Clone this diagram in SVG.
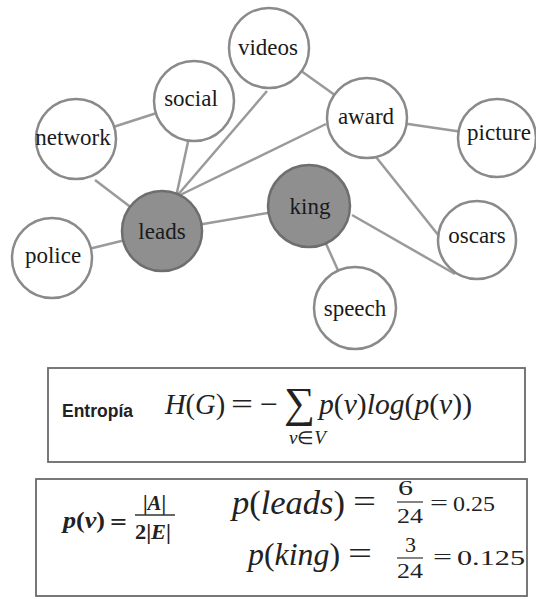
<svg xmlns="http://www.w3.org/2000/svg" width="536" height="599" viewBox="0 0 536 599">
<style>
.n{fill:#fff;stroke:#8a8a8a;stroke-width:2.5}
.h{fill:#8f8f8f;stroke:#6e6e6e;stroke-width:2.5}
.t{font-family:'Liberation Serif','Times New Roman',serif;font-size:23px;fill:#1a1a1a;text-anchor:middle}
.e line{stroke:#9a9a9a;stroke-width:2.5}
.box{fill:#fff;stroke:#6a6a6a;stroke-width:1.8}
.m{font-family:'Liberation Serif','Times New Roman',serif;font-style:italic;fill:#222}
.r{font-family:'Liberation Serif','Times New Roman',serif;font-style:normal;fill:#222}
.b{font-family:'Liberation Sans',Arial,sans-serif;font-weight:bold;fill:#222}
</style>
<g class="e" id="connectors">
<line x1="76" y1="139" x2="194" y2="101"/>
<line x1="95" y1="180" x2="162" y2="231"/>
<line x1="188" y1="142" x2="176" y2="197"/>
<line x1="267" y1="91" x2="176" y2="197"/>
<line x1="326" y1="124" x2="176" y2="197"/>
<line x1="269" y1="48" x2="367" y2="118"/>
<line x1="367" y1="118" x2="497" y2="137"/>
<line x1="376" y1="157" x2="439" y2="236"/>
<line x1="52" y1="258" x2="162" y2="231"/>
<line x1="162" y1="231" x2="309" y2="206"/>
<line x1="309" y1="206" x2="355" y2="308"/>
<line x1="352" y1="215" x2="455" y2="274"/>
</g>
<g id="videos"><circle class="n" cx="269" cy="48" r="40"/><text class="t" x="268" y="55">videos</text></g>
<g id="social"><circle class="n" cx="194" cy="101" r="40"/><text class="t" x="191" y="106">social</text></g>
<g id="network"><circle class="n" cx="76" cy="139" r="40"/><text class="t" x="73" y="145">network</text></g>
<g id="award"><circle class="n" cx="367" cy="118" r="40"/><text class="t" x="366" y="124">award</text></g>
<g id="picture"><circle class="n" cx="497" cy="138" r="39"/><text class="t" x="499" y="140">picture</text></g>
<g id="oscars"><circle class="n" cx="477" cy="240" r="39"/><text class="t" x="477" y="243">oscars</text></g>
<g id="police"><circle class="n" cx="52" cy="258" r="40"/><text class="t" x="53" y="263">police</text></g>
<g id="speech"><circle class="n" cx="355" cy="308" r="41"/><text class="t" x="355" y="316">speech</text></g>
<g id="leads"><circle class="h" cx="162" cy="231" r="40"/><text class="t" x="162" y="239">leads</text></g>
<g id="king"><circle class="h" cx="309" cy="206" r="41"/><text class="t" x="310" y="214">king</text></g>

<g id="entropy">
<rect class="box" x="48" y="368" width="477" height="94"/>
<text class="b" x="62" y="417" font-size="17.5">Entropía</text>
<text class="m" x="165" y="414" font-size="28.5">H<tspan class="r">(</tspan>G<tspan class="r">)</tspan></text>
<text class="r" x="231" y="414" font-size="30" textLength="22" lengthAdjust="spacingAndGlyphs">=</text>
<text class="r" x="260" y="414" font-size="30" textLength="18" lengthAdjust="spacingAndGlyphs">−</text>
<text class="r" x="284" y="417" font-size="43" textLength="31" lengthAdjust="spacingAndGlyphs">∑</text>
<text class="m" x="319" y="414" font-size="30" textLength="153" lengthAdjust="spacingAndGlyphs">p<tspan class="r">(</tspan>v<tspan class="r">)</tspan>log<tspan class="r">(</tspan>p<tspan class="r">(</tspan>v<tspan class="r">))</tspan></text>
<text class="m" x="289" y="444" font-size="18" textLength="37" lengthAdjust="spacingAndGlyphs">v<tspan class="r">∈</tspan>V</text>
</g>

<g id="probability">
<rect class="box" x="36" y="479" width="491" height="117"/>
<text class="m" x="63" y="528" font-size="24" font-weight="bold" textLength="42" lengthAdjust="spacingAndGlyphs">p<tspan class="r">(</tspan>v<tspan class="r">)</tspan></text>
<text class="r" x="110" y="530" font-size="24" font-weight="bold" textLength="17" lengthAdjust="spacingAndGlyphs">=</text>
<text class="m" x="143" y="510" font-size="21" font-weight="bold" textLength="23" lengthAdjust="spacingAndGlyphs"><tspan class="r">|</tspan>A<tspan class="r">|</tspan></text>
<line x1="135" y1="515" x2="175" y2="515" stroke="#333" stroke-width="1.6"/>
<text class="m" x="135" y="539" font-size="21" font-weight="bold" textLength="36" lengthAdjust="spacingAndGlyphs"><tspan class="r">2|</tspan>E<tspan class="r">|</tspan></text>

<text class="m" x="232" y="514" font-size="33" textLength="113" lengthAdjust="spacingAndGlyphs">p<tspan class="r">(</tspan>leads<tspan class="r">)</tspan></text>
<text class="r" x="353" y="512" font-size="32" textLength="23" lengthAdjust="spacingAndGlyphs">=</text>
<text class="r" x="398" y="495" font-size="20" textLength="15" lengthAdjust="spacingAndGlyphs">6</text>
<line x1="397" y1="502" x2="423" y2="502" stroke="#333" stroke-width="1.2"/>
<text class="r" x="397" y="523" font-size="20" textLength="26" lengthAdjust="spacingAndGlyphs">24</text>
<text class="r" x="430" y="510" font-size="20" textLength="18" lengthAdjust="spacingAndGlyphs">=</text>
<text class="r" x="453" y="511" font-size="20" textLength="42" lengthAdjust="spacingAndGlyphs">0.25</text>

<text class="m" x="248" y="565" font-size="32" textLength="92" lengthAdjust="spacingAndGlyphs">p<tspan class="r">(</tspan>king<tspan class="r">)</tspan></text>
<text class="r" x="348" y="564" font-size="32" textLength="24" lengthAdjust="spacingAndGlyphs">=</text>
<text class="r" x="405" y="552" font-size="20" textLength="11" lengthAdjust="spacingAndGlyphs">3</text>
<line x1="397" y1="558" x2="423" y2="558" stroke="#333" stroke-width="1.2"/>
<text class="r" x="397" y="578" font-size="20" textLength="26" lengthAdjust="spacingAndGlyphs">24</text>
<text class="r" x="433" y="564" font-size="21" textLength="19" lengthAdjust="spacingAndGlyphs">=</text>
<text class="r" x="457" y="565" font-size="21" textLength="68" lengthAdjust="spacingAndGlyphs">0.125</text>
</g>
</svg>
